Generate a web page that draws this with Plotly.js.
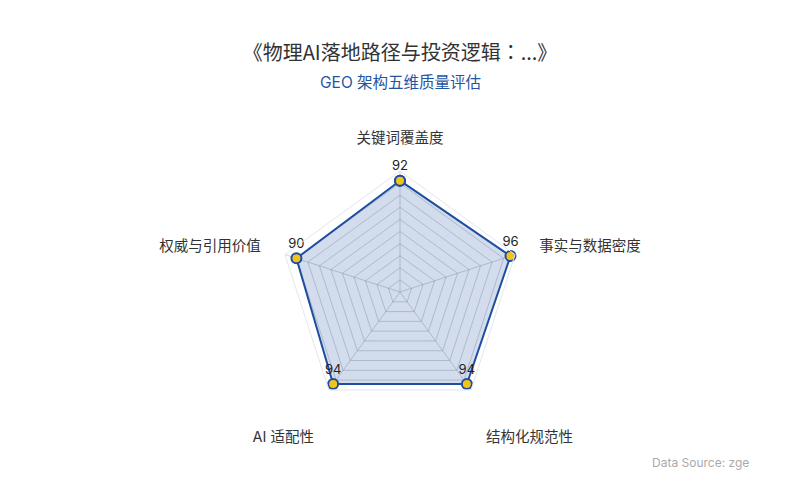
<!DOCTYPE html>
<html>
<head>
<meta charset="utf-8">
<script src="https://cdn.plot.ly/plotly-3.0.1.min.js"></script>
<style>
  html, body { margin: 0; padding: 0; background: #fff; }
  #chart { width: 800px; height: 500px; }
</style>
</head>
<body>
<div id="chart"></div>
<script>
// dimensions, clockwise from the top
var dimensions = ['关键词覆盖度', '事实与数据密度', '结构化规范性', 'AI 适配性', '权威与引用价值'];
var scores = [92, 96, 94, 94, 90];
var maxScore = 100;

var font = 'Inter, "Noto Sans CJK SC", "Noto Sans", sans-serif';
var cjkFont = 'Noto Sans CJK JP';

// close the polygon
var theta = dimensions.concat([dimensions[0]]);
var r = scores.concat([scores[0]]);
var labels = scores.map(String).concat(['']);

// the two lower names sit a line further out
var tickText = dimensions.map(function (d, i) {
  return (i === 2 || i === 3) ? '<br>' + d : d;
});

var trace = {
  type: 'scatterpolar',
  r: r,
  theta: theta,
  mode: 'lines+markers+text',
  text: labels,
  textposition: 'top center',
  textfont: { family: font, size: 13, color: '#222' },
  fill: 'toself',
  fillcolor: 'rgba(31,78,160,0.2)',
  line: { color: '#1f4ea0', width: 2 },
  marker: { size: 10, color: '#f2c318', line: { color: '#1f4ea0', width: 2 } },
  hoverinfo: 'theta+r',
  cliponaxis: false
};

var layout = {
  width: 800, height: 500,
  paper_bgcolor: '#fff',
  margin: { l: 0, r: 0, t: 0, b: 0 },
  showlegend: false,
  font: { family: font, color: '#333' },
  title: {
    text: '《物理AI落地路径与投资逻辑：...》',
    font: { family: cjkFont, size: 20, color: '#333' },
    x: 0.5, xanchor: 'center',
    y: 1 - 53 / 500, yanchor: 'middle'
  },
  annotations: [
    { text: 'GEO 架构五维质量评估', xref: 'paper', yref: 'paper', x: 0.5, y: 1 - 82 / 500,
      xanchor: 'center', yanchor: 'middle', showarrow: false,
      font: { family: font, size: 15.5, color: '#1f55a5' } },
    { text: 'Data Source: zge', xref: 'paper', yref: 'paper', x: 650 / 800, y: 1 - 462 / 500,
      xanchor: 'left', yanchor: 'middle', showarrow: false,
      font: { family: font, size: 12, color: '#aaa' } }
  ],
  polar: {
    domain: { x: [279 / 800, 521 / 800], y: [87 / 500, 329 / 500] },
    bgcolor: '#fff',
    gridshape: 'linear',
    radialaxis: {
      range: [0, maxScore], dtick: 10,
      showticklabels: false, ticks: '',
      showline: false,
      gridcolor: 'rgba(150,160,175,0.45)', gridwidth: 1
    },
    angularaxis: {
      rotation: 90, direction: 'clockwise',
      tickmode: 'array', tickvals: dimensions, ticktext: tickText,
      showline: true, linecolor: '#e3e6ec', linewidth: 1,
      gridcolor: 'rgba(150,160,175,0.45)',
      ticks: 'outside', ticklen: 22, tickcolor: 'rgba(0,0,0,0)',
      tickfont: { family: font, size: 14.5, color: '#333' }
    }
  }
};

Plotly.newPlot('chart', [trace], layout, { displayModeBar: false, responsive: false });
</script>
</body>
</html>
